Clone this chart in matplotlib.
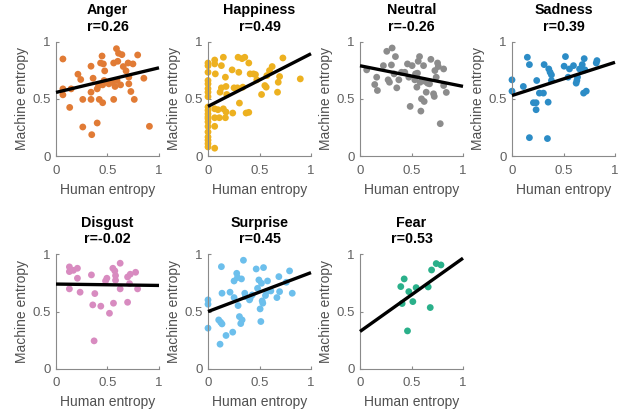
import matplotlib
matplotlib.use("Agg")
import matplotlib.pyplot as plt
import numpy as np

plt.rcParams['font.family'] = ['Liberation Sans', 'DejaVu Sans']

emotions = ["Anger", "Happiness", "Neutral", "Sadness", "Disgust", "Surprise", "Fear"]
r_values = ["0.26", "0.49", "-0.26", "0.39", "-0.02", "0.45", "0.53"]
colors = ["#E17B35", "#EDB120", "#8C8C8C", "#2C8CC6", "#D88BC0", "#6CBFEC", "#2AB08A"]

anger_x = [0.067, 0.067, 0.067, 0.147, 0.133, 0.213, 0.24, 0.26, 0.26, 0.34, 0.36, 0.34, 0.34, 0.347,
           0.4, 0.42, 0.453, 0.4, 0.413, 0.447, 0.433, 0.46, 0.473, 0.467, 0.453, 0.56, 0.587, 0.6,
           0.607, 0.64, 0.653, 0.547, 0.573, 0.56, 0.627, 0.7, 0.747, 0.68, 0.707, 0.707, 0.727,
           0.76, 0.793, 0.853, 0.907, 0.593, 0.513]
anger_y = [0.849, 0.588, 0.536, 0.588, 0.426, 0.716, 0.67, 0.496, 0.255, 0.786, 0.681, 0.559, 0.496, 0.188,
           0.29, 0.496, 0.467, 0.588, 0.617, 0.875, 0.814, 0.806, 0.745, 0.661, 0.623, 0.814, 0.939, 0.829,
           0.899, 0.887, 0.783, 0.646, 0.609, 0.496, 0.623, 0.814, 0.806, 0.745, 0.69, 0.632, 0.565,
           0.496, 0.884, 0.681, 0.261, 0.661, 0.632]

happy_x = [0, 0, 0, 0, 0, 0, 0, 0, 0, 0, 0, 0, 0, 0, 0, 0, 0, 0, 0, 0,
           0.065, 0.065, 0.071, 0.065, 0.065, 0.065, 0.065, 0.097, 0.117, 0.13, 0.13, 0.149, 0.149,
           0.11, 0.169, 0.169, 0.175, 0.175, 0.182, 0.234, 0.24, 0.253, 0.286, 0.292, 0.299, 0.305,
           0.331, 0.338, 0.357, 0.37, 0.396, 0.396, 0.409, 0.442, 0.461, 0.474, 0.52, 0.552, 0.565,
           0.571, 0.597, 0.623, 0.675, 0.682, 0.695, 0.727, 0.896]
happy_y = [0.814, 0.79, 0.733, 0.661, 0.632, 0.59, 0.559, 0.52, 0.43, 0.4, 0.37, 0.345, 0.328, 0.3,
           0.26, 0.212, 0.168, 0.11, 0.081, 0.14,
           0.84, 0.806, 0.719, 0.414, 0.336, 0.261, 0.07, 0.406, 0.559, 0.597, 0.791, 0.864, 0.414,
           0.336, 0.336, 0.69, 0.609, 0.386, 0.539, 0.754, 0.377, 0.597, 0.597, 0.864, 0.733, 0.464,
           0.852, 0.603, 0.864, 0.377, 0.383, 0.814, 0.719, 0.719, 0.713, 0.667, 0.539, 0.617, 0.603,
           0.704, 0.748, 0.783, 0.559, 0.646, 0.696, 0.858, 0.675]

neutral_x = [0.065, 0.143, 0.162, 0.169, 0.227, 0.26, 0.273, 0.286, 0.305, 0.312, 0.331, 0.344, 0.357,
             0.377, 0.403, 0.435, 0.461, 0.474, 0.487, 0.506, 0.532, 0.552, 0.558, 0.565, 0.578, 0.584,
             0.591, 0.597, 0.617, 0.623, 0.63, 0.643, 0.656, 0.675, 0.688, 0.714, 0.721, 0.727, 0.74,
             0.753, 0.76, 0.779, 0.812, 0.812, 0.838, 0.539]
neutral_y = [0.754, 0.626, 0.69, 0.574, 0.791, 0.916, 0.667, 0.646, 0.797, 0.945, 0.719, 0.87, 0.597,
             0.667, 0.733, 0.733, 0.806, 0.69, 0.435, 0.791, 0.667, 0.603, 0.725, 0.829, 0.87, 0.646,
             0.394, 0.501, 0.791, 0.478, 0.655, 0.559, 0.638, 0.632, 0.846, 0.545, 0.522, 0.748, 0.69,
             0.814, 0.783, 0.284, 0.762, 0.617, 0.557, 0.719]

sad_x = [0, 0, 0.11, 0.149, 0.169, 0.169, 0.208, 0.234, 0.234, 0.24, 0.266, 0.305, 0.312, 0.344,
         0.351, 0.357, 0.37, 0.383, 0.383, 0.506, 0.519, 0.545, 0.558, 0.597, 0.623, 0.63, 0.636,
         0.656, 0.682, 0.701, 0.708, 0.695, 0.721, 0.818, 0.825]
sad_y = [0.667, 0.568, 0.609, 0.864, 0.8, 0.162, 0.467, 0.467, 0.406, 0.661, 0.551, 0.551, 0.8, 0.154,
         0.472, 0.762, 0.733, 0.71, 0.661, 0.786, 0.87, 0.69, 0.762, 0.791, 0.638, 0.661, 0.69,
         0.762, 0.8, 0.852, 0.754, 0.551, 0.568, 0.814, 0.835]

disgust_x = [0.13, 0.13, 0.169, 0.208, 0.208, 0.13, 0.234, 0.344, 0.357, 0.377, 0.37, 0.435, 0.481,
             0.494, 0.519, 0.552, 0.571, 0.578, 0.578, 0.558, 0.623, 0.623, 0.695, 0.721, 0.773,
             0.714, 0.695, 0.792]
disgust_y = [0.89, 0.849, 0.86, 0.878, 0.791, 0.698, 0.669, 0.82, 0.558, 0.657, 0.244, 0.547, 0.767,
             0.791, 0.485, 0.878, 0.855, 0.814, 0.773, 0.573, 0.922, 0.698, 0.802, 0.826, 0.843,
             0.744, 0.581, 0.698]

surprise_x = [0, 0, 0, 0.104, 0.117, 0.123, 0.13, 0.136, 0.136, 0.175, 0.214, 0.24, 0.253, 0.253,
              0.279, 0.286, 0.292, 0.305, 0.318, 0.325, 0.331, 0.344, 0.357, 0.364, 0.403, 0.409,
              0.429, 0.468, 0.481, 0.494, 0.506, 0.513, 0.519, 0.526, 0.532, 0.539, 0.558, 0.571,
              0.578, 0.61, 0.669, 0.688, 0.695, 0.76, 0.792, 0.818]
surprise_y = [0.602, 0.564, 0.355, 0.427, 0.215, 0.407, 0.892, 0.66, 0.392, 0.291, 0.669, 0.32, 0.767,
              0.622, 0.834, 0.797, 0.552, 0.456, 0.395, 0.785, 0.427, 0.948, 0.66, 0.631, 0.602, 0.616,
              0.645, 0.872, 0.703, 0.776, 0.523, 0.413, 0.747, 0.593, 0.573, 0.884, 0.64, 0.674,
              0.767, 0.68, 0.622, 0.805, 0.674, 0.756, 0.855, 0.66]

fear_x = [0.396, 0.409, 0.429, 0.461, 0.474, 0.513, 0.545, 0.662, 0.682, 0.695, 0.74, 0.786]
fear_y = [0.718, 0.57, 0.785, 0.331, 0.674, 0.587, 0.709, 0.715, 0.535, 0.863, 0.919, 0.907]

xs = [anger_x, happy_x, neutral_x, sad_x, disgust_x, surprise_x, fear_x]
ys = [anger_y, happy_y, neutral_y, sad_y, disgust_y, surprise_y, fear_y]

# fitted regression lines (intercept, slope)
fit_intercept = [0.557, 0.435, 0.79, 0.53, 0.74, 0.50, 0.326]
fit_slope = [0.215, 0.46, -0.18, 0.29, -0.012, 0.34, 0.64]

fig = plt.figure(figsize=(6.21, 4.12), dpi=100)
W, H = 621, 412
col_left = [56, 208, 360, 512]
row_top = [41.7, 254.3]
aw, ah = 103, 114.5

label_color = "#505050"
tick_color = "#606060"
axis_color = "#8a8a8a"

for i, emo in enumerate(emotions):
    r, c = divmod(i, 4)
    left = col_left[c] / W
    bottom = 1 - (row_top[r] + ah) / H
    ax = fig.add_axes([left, bottom, aw / W, ah / H])
    ax.scatter(xs[i], ys[i], s=24, color=colors[i], edgecolors='none', zorder=2, clip_on=False)
    lx = np.array([0.0, 1.0])
    ax.plot(lx, fit_intercept[i] + fit_slope[i] * lx, color='black', lw=2.4, zorder=3,
            solid_capstyle='butt', clip_on=False)
    ax.set_xlim(0, 1)
    ax.set_ylim(0, 1)
    ax.set_xticks([0, 0.5, 1])
    ax.set_yticks([0, 0.5, 1])
    ax.set_xticklabels(["0", "0.5", "1"])
    ax.set_yticklabels(["0", "0.5", "1"])
    for s in ['top', 'right']:
        ax.spines[s].set_visible(False)
    for s in ['left', 'bottom']:
        ax.spines[s].set_color(axis_color)
        ax.spines[s].set_linewidth(0.8)
    ax.tick_params(direction='in', length=2.5, width=0.8, color=axis_color,
                   labelcolor=tick_color, labelsize=9.5)
    ax.tick_params(axis='x', pad=6)
    ax.tick_params(axis='y', pad=4)
    ax.set_xlabel("Human entropy", fontsize=10, color=label_color, labelpad=4.5)
    ax.set_ylabel("Machine entropy", fontsize=10, color=label_color, labelpad=2)
    ax.set_title(f"{emo}\nr={r_values[i]}", fontsize=10.3, fontweight='bold', pad=8,
                 linespacing=1.2)
    ax.patch.set_alpha(0)

fig.savefig("out.png", dpi=100)
